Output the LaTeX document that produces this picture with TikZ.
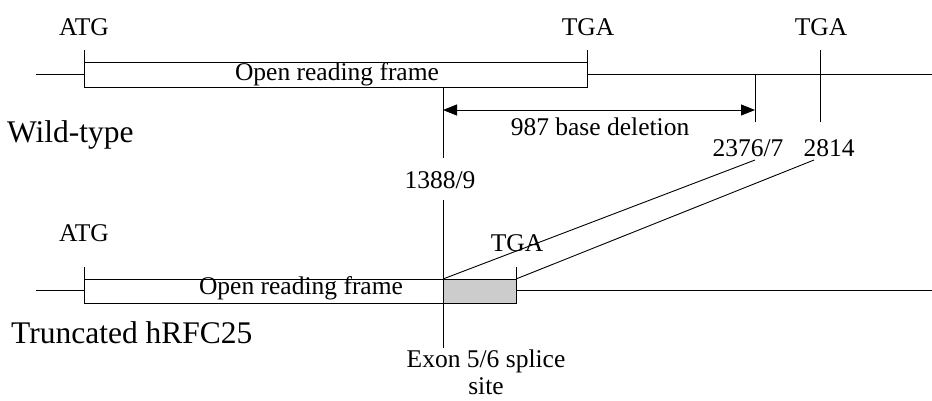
\documentclass[tikz,border=0pt]{standalone}
\usepackage{fontspec}
\setmainfont{Liberation Serif}
\usetikzlibrary{arrows.meta}
\begin{document}
\begin{tikzpicture}[x=1pt,y=-1pt,
  ln/.style={line width=0.9pt},
  lbl/.style={font=\fontsize{25.5}{28}\selectfont, inner sep=0pt},
  big/.style={font=\fontsize{31.5}{34}\selectfont, inner sep=0pt, anchor=west},
  orf/.style={ln, draw, fill=white},
  shade/.style={ln, draw, fill=gray!40}]
\useasboundingbox (0,0) rectangle (932,400);
% ---------- Wild-type ----------
\coordinate (wL) at (36,74);
\coordinate (wR) at (932,74);
\draw[ln] (wL) -- (wR);
\draw[orf] (84,62) rectangle (587,87);
\node[lbl] (orf1) at (337,74) {Open reading frame};
\coordinate (atg1b) at (84,62); \coordinate (atg1t) at (84,50);
\draw[ln] (atg1t) -- (atg1b);
\coordinate (tga1b) at (587,74); \coordinate (tga1t) at (587,50);
\draw[ln] (tga1t) -- (587,87);
\coordinate (tga2t) at (820,50); \coordinate (tga2b) at (820,122);
\draw[ln] (tga2t) -- (tga2b);
\coordinate (d2t) at (755,74); \coordinate (d2b) at (755,122);
\draw[ln] (d2t) -- (d2b);
\coordinate (d1t) at (443,87); \coordinate (d1b) at (443,158);
\draw[ln] (d1t) -- (d1b);
\coordinate (aL) at (443,110); \coordinate (aR) at (755,110);
\draw[ln, {Triangle[length=14pt,width=11pt]}-{Triangle[length=14pt,width=11pt]}] (aL) -- (aR);
\node[lbl] (atg1) at (84,27) {ATG};
\node[lbl] (tga1) at (588,27) {TGA};
\node[lbl] (tga2) at (821,27) {TGA};
\node[lbl] (del) at (600,127) {987 base deletion};
\node[lbl] (p2376) at (748,148) {2376/7};
\node[lbl] (p2814) at (829,148) {2814};
\node[lbl] (p1388) at (440,180) {1388/9};
\node[big] (wt) at (7,135) {Wild-type};
% ---------- Truncated ----------
\coordinate (tL) at (36,290);
\coordinate (tR) at (932,290);
\draw[ln] (tL) -- (84,290);
\draw[ln] (516,290) -- (tR);
\draw[orf] (84,279) rectangle (443,303);
\draw[shade] (443,279) rectangle (516,303);
\node[lbl] (orf2) at (301,288) {Open reading frame};
\coordinate (atg3t) at (84,267);
\draw[ln] (atg3t) -- (84,279);
\coordinate (tga3t) at (516,267);
\draw[ln] (tga3t) -- (516,279);
\coordinate (spt) at (443,200); \coordinate (spb) at (443,348);
\draw[ln] (spt) -- (spb);
\node[lbl] (atg3) at (84,233) {ATG};
\node[lbl] (tga3) at (517,243) {TGA};
\coordinate (j1) at (443,279); \coordinate (j2) at (516,279);
\coordinate (e1) at (755,160); \coordinate (e2) at (814,160);
\draw[ln] (j1) -- (e1);
\draw[ln] (j2) -- (e2);
\node[lbl] (exon) at (486,361) {Exon 5/6 splice};
\node[lbl] (site) at (486,386) {site};
\node[big] (tr) at (11,333) {Truncated hRFC25};
\end{tikzpicture}
\end{document}
